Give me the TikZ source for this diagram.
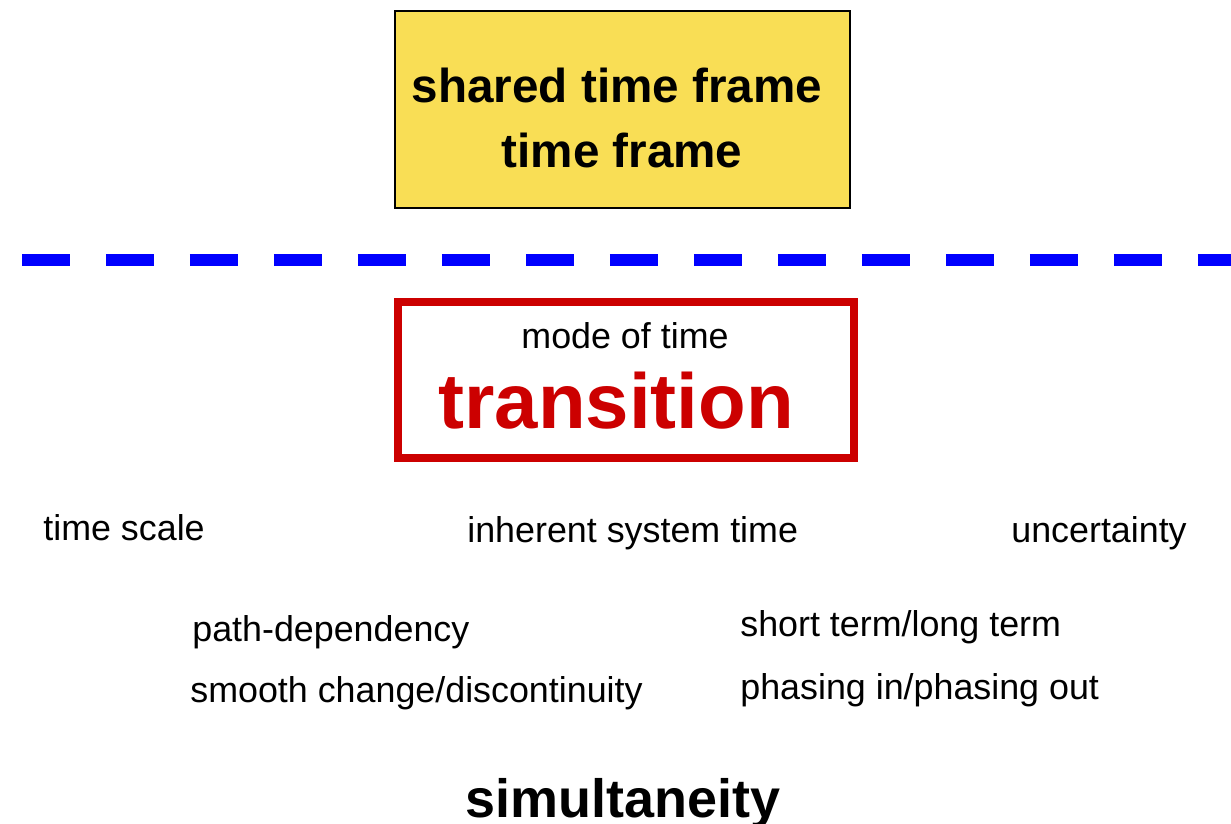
\documentclass[tikz,border=0pt]{standalone}
\usepackage{fontspec}
\setmainfont{Liberation Sans}
\usetikzlibrary{calc}
\definecolor{frameyellow}{RGB}{249,222,85}
\definecolor{modered}{RGB}{204,0,0}
\definecolor{dashblue}{RGB}{0,0,255}

\begin{document}
\begin{tikzpicture}[x=0.02cm, y=-0.02cm]
            \tikzstyle{plain text} = [inner sep=0, anchor=base west, font=\fontsize{20.4}{24}\selectfont]
            \tikzstyle{head text} = [inner sep=0, anchor=base, font=\fontsize{27.1}{32}\selectfont\bfseries]
            \useasboundingbox (0, 0) rectangle (1231, 823);
            % shared time frame
            \node[draw, line width=0.8pt, fill=frameyellow, minimum width=455*0.02cm, minimum height=197*0.02cm, inner sep=0] (frame) at (622.5, 109.5) {};
            \node[head text] (shared) at (617, 102) {shared time frame};
            \node[head text] (timeframe) at (622, 167) {time frame};
            % divider
            \coordinate (divL) at (22, 260);
            \coordinate (divR) at (1231, 260);
            \draw[dashblue, line width=6.83pt, dash pattern=on 27.3pt off 20.5pt] (divL) -- (divR);
            % mode of time
            \node[draw=modered, line width=4.55pt, minimum width=456*0.02cm, minimum height=156*0.02cm, inner sep=0] (mode) at (625.5, 380) {};
            \node[inner sep=0, anchor=base, font=\fontsize{20.4}{24}\selectfont] (modelabel) at (625, 348) {mode of time};
            \node[inner sep=0, anchor=base, text=modered, font=\fontsize{44.4}{52}\selectfont\bfseries] (transition) at (616, 428) {transition};
            % aspects
            \node[plain text] (scale) at (43, 540) {time scale};
            \node[plain text] (inherent) at (467, 542) {inherent system time};
            \node[plain text] (uncertainty) at (1011, 542) {uncertainty};
            \node[plain text] (path) at (192, 641) {path-dependency};
            \node[plain text] (shortlong) at (740, 636) {short term/long term};
            \node[plain text] (smooth) at (190, 702) {smooth change/discontinuity};
            \node[plain text] (phasing) at (740, 699) {phasing in/phasing out};
            \node[inner sep=0, anchor=base, font=\fontsize{30.7}{36}\selectfont\bfseries] (simult) at (623, 817) {simultaneity};
        \end{tikzpicture}
\end{document}
